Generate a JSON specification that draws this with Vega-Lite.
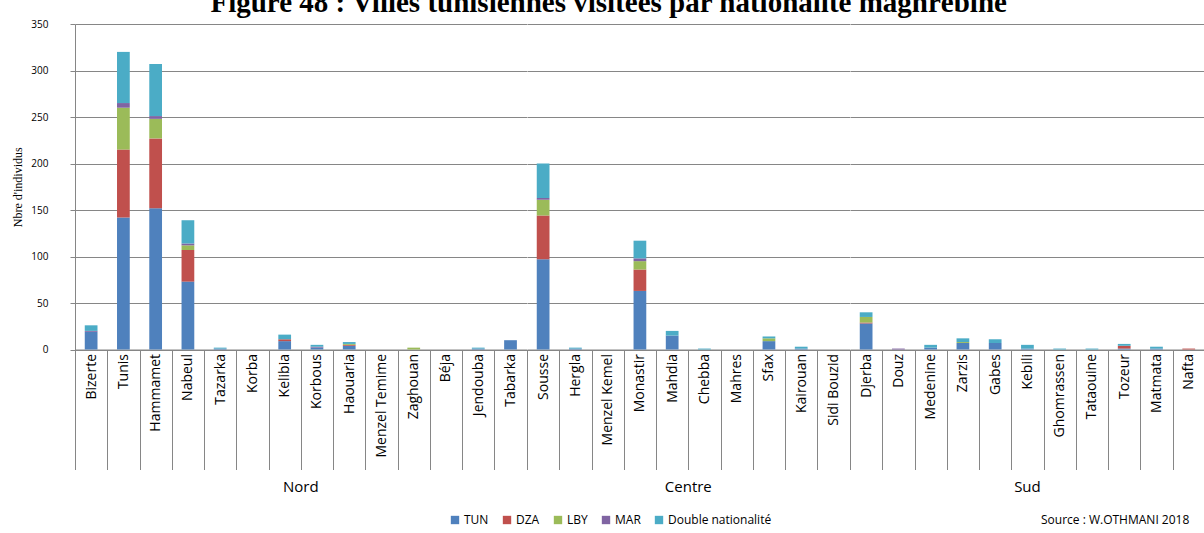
{
  "$schema": "https://vega.github.io/schema/vega-lite/v6.json",
  "padding": {"left": 11, "top": -11, "right": 0, "bottom": 12},
  "background": "white",
  "bounds": "flush",
  "title": {
    "text": "Figure 48 : Villes tunisiennes visitées par nationalité maghrébine",
    "font": "Liberation Serif",
    "fontSize": 29,
    "fontWeight": "bold",
    "color": "black",
    "anchor": "middle",
    "offset": 1,
    "dx": 0
  },
  "data": {
    "values": [
      {"region": "Nord", "ville": "Bizerte", "nat": "TUN", "n": 19},
      {"region": "Nord", "ville": "Bizerte", "nat": "MAR", "n": 1},
      {"region": "Nord", "ville": "Bizerte", "nat": "Double nationalité", "n": 6},
      {"region": "Nord", "ville": "Tunis", "nat": "TUN", "n": 142},
      {"region": "Nord", "ville": "Tunis", "nat": "DZA", "n": 73},
      {"region": "Nord", "ville": "Tunis", "nat": "LBY", "n": 45},
      {"region": "Nord", "ville": "Tunis", "nat": "MAR", "n": 5},
      {"region": "Nord", "ville": "Tunis", "nat": "Double nationalité", "n": 55},
      {"region": "Nord", "ville": "Hammamet", "nat": "TUN", "n": 152},
      {"region": "Nord", "ville": "Hammamet", "nat": "DZA", "n": 75},
      {"region": "Nord", "ville": "Hammamet", "nat": "LBY", "n": 21},
      {"region": "Nord", "ville": "Hammamet", "nat": "MAR", "n": 3},
      {"region": "Nord", "ville": "Hammamet", "nat": "Double nationalité", "n": 56},
      {"region": "Nord", "ville": "Nabeul", "nat": "TUN", "n": 73},
      {"region": "Nord", "ville": "Nabeul", "nat": "DZA", "n": 34},
      {"region": "Nord", "ville": "Nabeul", "nat": "LBY", "n": 5},
      {"region": "Nord", "ville": "Nabeul", "nat": "MAR", "n": 2},
      {"region": "Nord", "ville": "Nabeul", "nat": "Double nationalité", "n": 25},
      {"region": "Nord", "ville": "Tazarka", "nat": "TUN", "n": 1},
      {"region": "Nord", "ville": "Tazarka", "nat": "Double nationalité", "n": 1},
      {"region": "Nord", "ville": "Korba", "nat": "TUN", "n": 0},
      {"region": "Nord", "ville": "Kelibia", "nat": "TUN", "n": 9},
      {"region": "Nord", "ville": "Kelibia", "nat": "DZA", "n": 2},
      {"region": "Nord", "ville": "Kelibia", "nat": "Double nationalité", "n": 5},
      {"region": "Nord", "ville": "Korbous", "nat": "TUN", "n": 2},
      {"region": "Nord", "ville": "Korbous", "nat": "MAR", "n": 1},
      {"region": "Nord", "ville": "Korbous", "nat": "Double nationalité", "n": 2},
      {"region": "Nord", "ville": "Haouaria", "nat": "TUN", "n": 4},
      {"region": "Nord", "ville": "Haouaria", "nat": "DZA", "n": 1},
      {"region": "Nord", "ville": "Haouaria", "nat": "LBY", "n": 1},
      {"region": "Nord", "ville": "Haouaria", "nat": "Double nationalité", "n": 2},
      {"region": "Nord", "ville": "Menzel Temime", "nat": "TUN", "n": 0},
      {"region": "Nord", "ville": "Zaghouan", "nat": "LBY", "n": 2},
      {"region": "Nord", "ville": "Béja", "nat": "TUN", "n": 0},
      {"region": "Nord", "ville": "Jendouba", "nat": "TUN", "n": 1},
      {"region": "Nord", "ville": "Jendouba", "nat": "Double nationalité", "n": 1},
      {"region": "Nord", "ville": "Tabarka", "nat": "TUN", "n": 10},
      {"region": "Centre", "ville": "Sousse", "nat": "TUN", "n": 97},
      {"region": "Centre", "ville": "Sousse", "nat": "DZA", "n": 47},
      {"region": "Centre", "ville": "Sousse", "nat": "LBY", "n": 17},
      {"region": "Centre", "ville": "Sousse", "nat": "MAR", "n": 2},
      {"region": "Centre", "ville": "Sousse", "nat": "Double nationalité", "n": 37},
      {"region": "Centre", "ville": "Hergla", "nat": "TUN", "n": 1},
      {"region": "Centre", "ville": "Hergla", "nat": "Double nationalité", "n": 1},
      {"region": "Centre", "ville": "Menzel Kemel", "nat": "TUN", "n": 0},
      {"region": "Centre", "ville": "Monastir", "nat": "TUN", "n": 63},
      {"region": "Centre", "ville": "Monastir", "nat": "DZA", "n": 23},
      {"region": "Centre", "ville": "Monastir", "nat": "LBY", "n": 9},
      {"region": "Centre", "ville": "Monastir", "nat": "MAR", "n": 3},
      {"region": "Centre", "ville": "Monastir", "nat": "Double nationalité", "n": 19},
      {"region": "Centre", "ville": "Mahdia", "nat": "TUN", "n": 15},
      {"region": "Centre", "ville": "Mahdia", "nat": "Double nationalité", "n": 5},
      {"region": "Centre", "ville": "Chebba", "nat": "Double nationalité", "n": 1},
      {"region": "Centre", "ville": "Mahres", "nat": "TUN", "n": 0},
      {"region": "Centre", "ville": "Sfax", "nat": "TUN", "n": 9},
      {"region": "Centre", "ville": "Sfax", "nat": "LBY", "n": 3},
      {"region": "Centre", "ville": "Sfax", "nat": "Double nationalité", "n": 2},
      {"region": "Centre", "ville": "Kairouan", "nat": "TUN", "n": 1},
      {"region": "Centre", "ville": "Kairouan", "nat": "Double nationalité", "n": 2},
      {"region": "Centre", "ville": "Sidi Bouzid", "nat": "TUN", "n": 0},
      {"region": "Sud", "ville": "Djerba", "nat": "TUN", "n": 28},
      {"region": "Sud", "ville": "Djerba", "nat": "DZA", "n": 1},
      {"region": "Sud", "ville": "Djerba", "nat": "LBY", "n": 6},
      {"region": "Sud", "ville": "Djerba", "nat": "Double nationalité", "n": 5},
      {"region": "Sud", "ville": "Douz", "nat": "MAR", "n": 1},
      {"region": "Sud", "ville": "Medenine", "nat": "TUN", "n": 2},
      {"region": "Sud", "ville": "Medenine", "nat": "Double nationalité", "n": 3},
      {"region": "Sud", "ville": "Zarzis", "nat": "TUN", "n": 7},
      {"region": "Sud", "ville": "Zarzis", "nat": "LBY", "n": 1},
      {"region": "Sud", "ville": "Zarzis", "nat": "Double nationalité", "n": 4},
      {"region": "Sud", "ville": "Gabes", "nat": "TUN", "n": 7},
      {"region": "Sud", "ville": "Gabes", "nat": "Double nationalité", "n": 4},
      {"region": "Sud", "ville": "Kebili", "nat": "TUN", "n": 1},
      {"region": "Sud", "ville": "Kebili", "nat": "Double nationalité", "n": 4},
      {"region": "Sud", "ville": "Ghomrassen", "nat": "Double nationalité", "n": 1},
      {"region": "Sud", "ville": "Tataouine", "nat": "Double nationalité", "n": 1},
      {"region": "Sud", "ville": "Tozeur", "nat": "TUN", "n": 1},
      {"region": "Sud", "ville": "Tozeur", "nat": "DZA", "n": 3},
      {"region": "Sud", "ville": "Tozeur", "nat": "Double nationalité", "n": 2},
      {"region": "Sud", "ville": "Matmata", "nat": "TUN", "n": 1},
      {"region": "Sud", "ville": "Matmata", "nat": "Double nationalité", "n": 2},
      {"region": "Sud", "ville": "Nafta", "nat": "DZA", "n": 1}
    ]
  },
  "transform": [
    {"calculate": "indexof(['TUN','DZA','LBY','MAR','Double nationalité'], datum.nat)", "as": "ordre"}
  ],
  "facet": {
    "column": {
      "field": "region",
      "type": "nominal",
      "sort": ["Nord", "Centre", "Sud"],
      "title": null,
      "header": {
        "labelOrient": "bottom",
        "labelFont": "Open Sans",
        "labelFontSize": 15,
        "labelColor": "black",
        "labelPadding": 130
      }
    }
  },
  "spacing": 0,
  "resolve": {"scale": {"x": "independent"}},
  "spec": {
    "width": {"step": 32.26},
    "height": 325.5,
    "mark": {"type": "bar", "width": {"band": 0.395}},
    "encoding": {
      "x": {
        "field": "ville",
        "type": "nominal",
        "sort": null,
        "scale": {"paddingInner": 0, "paddingOuter": 0},
        "axis": {
          "title": null,
          "labelAngle": -90,
          "labelAlign": "right",
          "labelBaseline": "middle",
          "labelFont": "Open Sans",
          "labelFontSize": 14,
          "labelColor": "black",
          "tickBand": "extent",
          "tickSize": 120,
          "labelPadding": -116,
          "tickColor": "#868686",
          "domainColor": "#868686",
          "labelOverlap": false
        }
      },
      "y": {
        "field": "n",
        "type": "quantitative",
        "aggregate": "sum",
        "stack": "zero",
        "scale": {"domain": [0, 350], "nice": false},
        "axis": {
          "title": "Nbre d'individus",
          "titleFont": "Liberation Serif",
          "titleFontSize": 12,
          "titleFontWeight": "normal",
          "titleColor": "black",
          "titlePadding": 6,
          "values": [0, 50, 100, 150, 200, 250, 300, 350],
          "labelFont": "Open Sans",
          "labelFontSize": 10,
          "labelColor": "black",
          "labelPadding": 22,
          "tickSize": 5,
          "tickColor": "#868686",
          "domainColor": "#868686",
          "gridColor": "#868686",
          "grid": true
        }
      },
      "color": {
        "field": "nat",
        "type": "nominal",
        "scale": {
          "domain": ["TUN", "DZA", "LBY", "MAR", "Double nationalité"],
          "range": ["#4F81BD", "#C0504D", "#9BBB59", "#8064A2", "#4BACC6"]
        },
        "legend": {
          "title": "Source : W.OTHMANI 2018",
          "titleOrient": "right",
          "titlePadding": 270,
          "titleFont": "Open Sans",
          "titleFontSize": 12,
          "titleFontWeight": "normal",
          "titleColor": "black",
          "titleBaseline": "middle",
          "titleAnchor": "middle",
          "orient": "none",
          "direction": "horizontal",
          "legendX": 374,
          "legendY": 490,
          "symbolType": "square",
          "symbolSize": 70,
          "symbolStrokeWidth": 0,
          "symbolOpacity": 1,
          "labelFont": "Open Sans",
          "labelFontSize": 12,
          "labelColor": "black",
          "labelOffset": 3,
          "columnPadding": 12
        }
      },
      "order": {"field": "ordre", "type": "quantitative", "sort": "ascending"}
    }
  },
  "config": {
    "view": {"stroke": null},
    "axis": {"gridWidth": 1}
  }
}
